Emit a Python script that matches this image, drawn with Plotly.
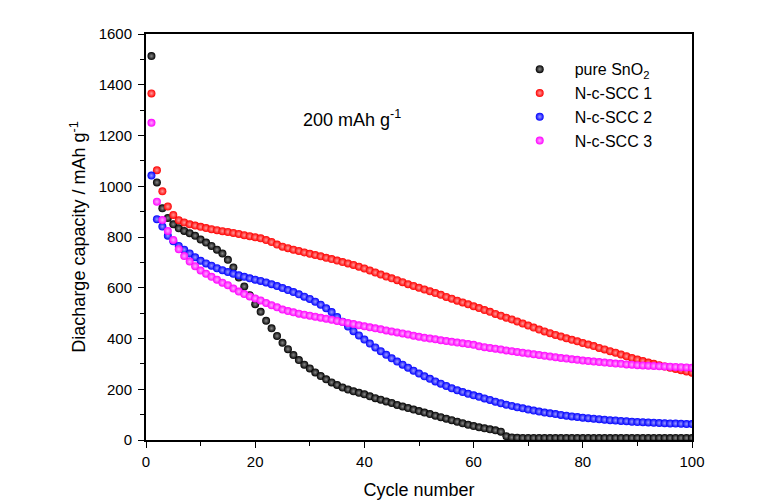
import plotly.graph_objects as go

cycles = list(range(1, 101))

pure_sno2 = [1513, 1015, 913, 875, 850, 834, 824, 815, 805, 790,
             778, 765, 750, 735, 710, 680, 640, 605, 570, 535,
             505, 470, 440, 410, 383, 358, 335, 315, 297, 282,
             266, 252, 239, 227, 217, 207, 199, 192, 186, 180,
             172, 165, 159, 152, 146, 138, 132, 126, 120, 114,
             108, 102, 96, 90, 84, 78, 72, 66, 60, 55,
             50, 46, 42, 38, 33, 15, 10, 9, 8, 8,
             8, 8, 8, 8, 8, 8, 8, 8, 8, 8,
             8, 8, 8, 8, 8, 8, 8, 8, 8, 8,
             8, 8, 8, 8, 8, 8, 8, 8, 8, 8]

nscc1 = [1366, 1063, 980, 920, 887, 866, 857, 850, 845, 840,
         835, 831, 827, 823, 820, 816, 812, 807, 803, 799,
         795, 788, 780, 770, 762, 756, 750, 745, 739, 734,
         729, 724, 718, 713, 707, 701, 696, 690, 683, 676,
         668, 660, 652, 644, 637, 630, 622, 614, 607, 600,
         593, 586, 579, 572, 564, 557, 549, 542, 535, 527,
         520, 512, 505, 497, 490, 482, 475, 467, 459, 451,
         443, 435, 428, 421, 414, 408, 401, 395, 389, 382,
         376, 370, 363, 357, 350, 344, 337, 330, 323, 317,
         311, 305, 300, 295, 290, 285, 280, 275, 270, 265]

nscc2 = [1042, 870, 841, 805, 783, 765, 750, 735, 720, 706,
         696, 687, 677, 669, 662, 655, 649, 643, 637, 632,
         627, 621, 614, 607, 599, 591, 583, 574, 565, 556,
         545, 533, 519, 504, 485, 466, 447, 429, 412, 396,
         380, 365, 350, 336, 322, 309, 297, 285, 273, 262,
         251, 241, 231, 222, 213, 204, 196, 189, 182, 176,
         170, 164, 158, 151, 145, 139, 134, 129, 125, 120,
         116, 112, 108, 105, 102, 99, 96, 93, 91, 88,
         86, 84, 82, 80, 78, 77, 75, 74, 72, 71,
         70, 69, 68, 67, 66, 65, 65, 64, 63, 63]

nscc3 = [1250, 939, 867, 824, 788, 752, 725, 703, 685, 668,
         655, 643, 632, 620, 610, 597, 585, 575, 566, 558,
         550, 540, 531, 523, 514, 508, 503, 498, 494, 490,
         486, 482, 478, 474, 469, 465, 461, 457, 452, 448,
         444, 440, 436, 432, 428, 424, 420, 416, 411, 407,
         403, 400, 397, 393, 390, 387, 384, 381, 378, 375,
         369, 366, 363, 360, 357, 353, 350, 347, 344, 341,
         338, 335, 332, 329, 326, 323, 321, 318, 316, 313,
         311, 309, 307, 305, 303, 301, 300, 298, 297, 295,
         294, 293, 292, 291, 290, 289, 288, 287, 286, 285]

series = [
    ("pure SnO<sub>2</sub>", pure_sno2, "#000000", "#8a8a8a"),
    ("N-c-SCC 1", nscc1, "#ff0000", "#ff9a9a"),
    ("N-c-SCC 2", nscc2, "#0000ff", "#9a9aff"),
    ("N-c-SCC 3", nscc3, "#ff00ff", "#ffa8ff"),
]

x_ticks = [0, 20, 40, 60, 80, 100]
y_ticks = [0, 200, 400, 600, 800, 1000, 1200, 1400, 1600]

FONT = "Arial, Liberation Sans, sans-serif"

fig = go.Figure()
for name, vals, col, hi in series:
    fig.add_trace(go.Scatter(
        x=cycles, y=vals, mode="markers", name=name,
        marker=dict(size=8, color=col, line=dict(width=0),
                    gradient=dict(type="radial", color=hi)),
    ))

axis_common = dict(
    showgrid=False, zeroline=False, showline=True, linecolor="black",
    linewidth=2, mirror=True, ticks="outside", ticklen=6, tickwidth=1.2,
    tickcolor="black", automargin=False,
    tickfont=dict(family=FONT, size=15, color="black"),
)

fig.update_xaxes(range=[0, 100], tickvals=x_ticks, ticklabelstandoff=1,
                 minor=dict(ticks="outside", ticklen=4, tickwidth=1.2,
                            tickcolor="black", dtick=10, tick0=0),
                 title=dict(text="Cycle number", standoff=14,
                            font=dict(family=FONT, size=18, color="black")),
                 **axis_common)
fig.update_yaxes(range=[0, 1600], tickvals=y_ticks, ticklabelstandoff=3,
                 minor=dict(ticks="outside", ticklen=4, tickwidth=1.2,
                            tickcolor="black", dtick=100, tick0=0),
                 title=dict(text="Diacharge capacity / mAh g<sup>-1</sup>", standoff=8,
                            font=dict(family=FONT, size=18, color="black")),
                 **axis_common)

fig.add_annotation(x=0.284, y=0.792, xref="paper", yref="paper",
                   xanchor="left", yanchor="middle", showarrow=False,
                   text="200 mAh g<sup>-1</sup>",
                   font=dict(family=FONT, size=18, color="black"))

fig.update_layout(
    width=779, height=502,
    margin=dict(l=146, r=87, t=34, b=62),
    paper_bgcolor="white", plot_bgcolor="white",
    font=dict(family=FONT, color="black"),
    legend=dict(x=0.657, y=0.955, xanchor="left", yanchor="top",
                bgcolor="rgba(0,0,0,0)", itemwidth=60,
                font=dict(family=FONT, size=16, color="black")),
)

fig.write_html("out.html")
